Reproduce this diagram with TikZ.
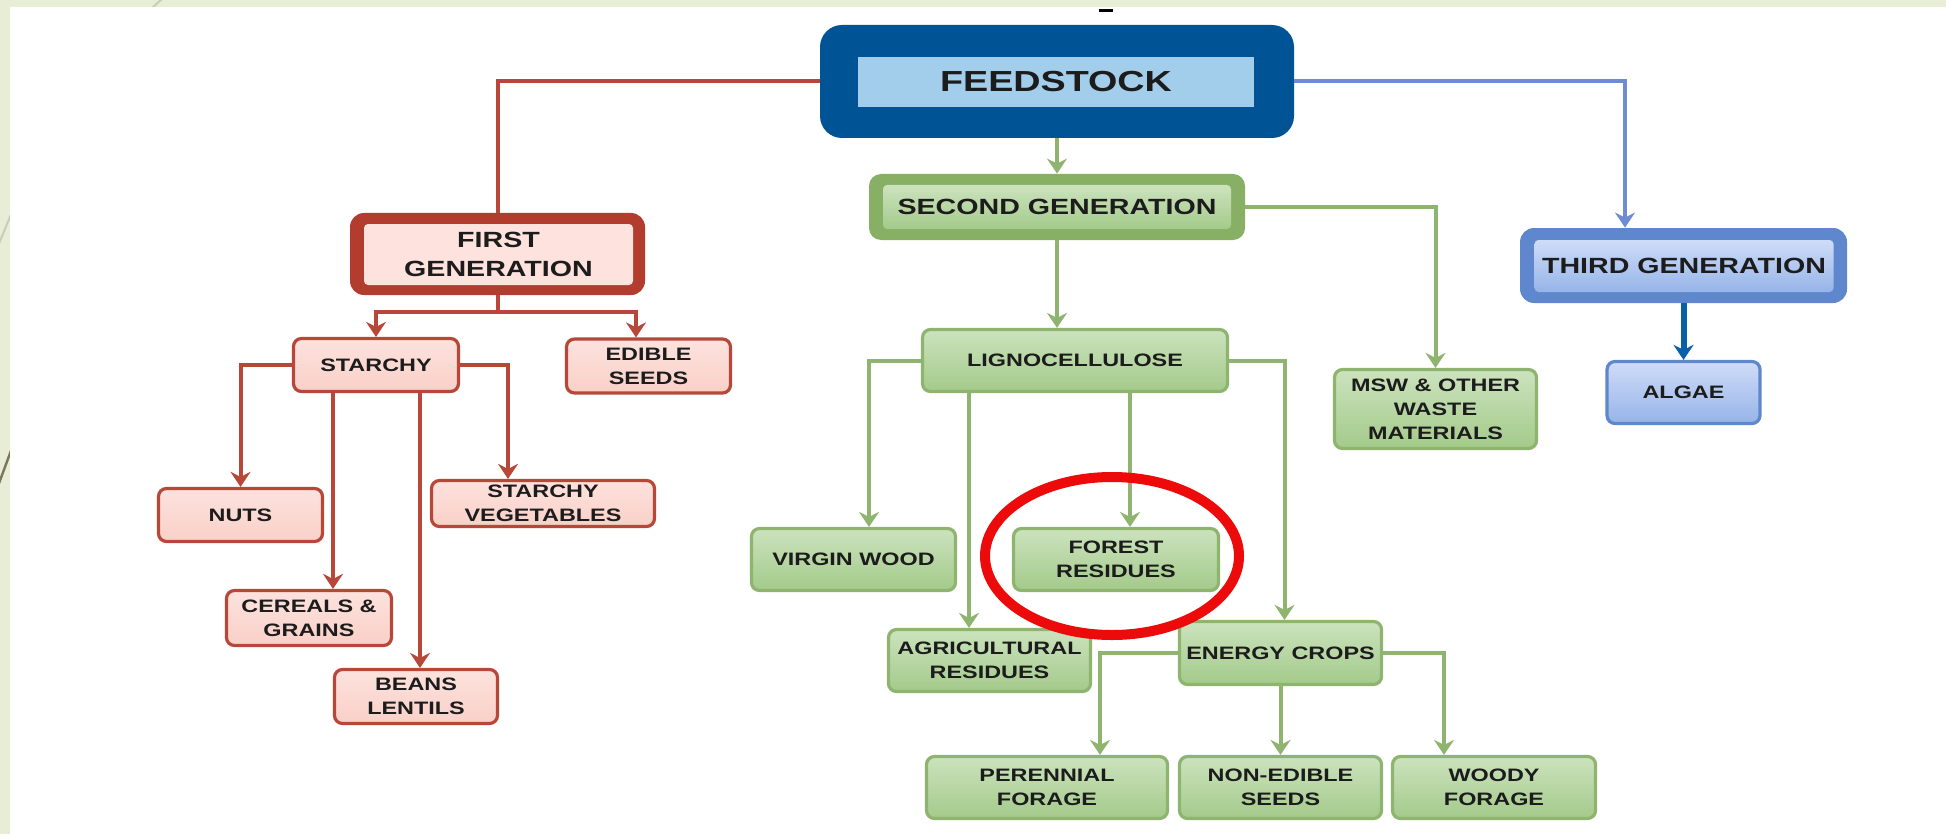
\documentclass[tikz,border=0pt]{standalone}
\usepackage{fontspec}
\setmainfont{Liberation Sans}[FakeStretch=1.3]
\usetikzlibrary{arrows.meta,shapes.geometric}
\definecolor{TextBlack}{RGB}{28,28,28}
\definecolor{Strip}{RGB}{232,237,214}
\definecolor{StripLine}{RGB}{200,205,184}
\definecolor{SlideLine}{RGB}{125,118,88}
\definecolor{FeedDark}{RGB}{0,84,150}
\definecolor{FeedLight}{RGB}{162,206,236}
\definecolor{RedLine}{RGB}{183,72,57}
\definecolor{RedDark}{RGB}{178,60,45}
\definecolor{PinkTop}{RGB}{253,226,221}
\definecolor{PinkBot}{RGB}{249,208,200}
\definecolor{GreenLine}{RGB}{143,180,112}
\definecolor{GreenDark}{RGB}{135,176,100}
\definecolor{GreenTop}{RGB}{204,227,190}
\definecolor{GreenBot}{RGB}{163,202,138}
\definecolor{BlueLine}{RGB}{110,140,210}
\definecolor{BlueMid}{RGB}{95,135,205}
\definecolor{BlueTop}{RGB}{207,220,248}
\definecolor{BlueBot}{RGB}{150,180,232}
\definecolor{AlgaeLine}{RGB}{10,95,170}
\definecolor{Ring}{RGB}{236,10,10}
\tikzset{
  lbl/.style={font=\bfseries\fontsize{9}{12}\selectfont, text=TextBlack, align=center, inner sep=0pt},
  biglbl/.style={font=\bfseries\fontsize{11}{14.5}\selectfont, text=TextBlack, align=center, inner sep=0pt},
  frame/.style={inner sep=0pt},
  redbox/.style={lbl, draw=RedLine, line width=1.6pt, top color=PinkTop, bottom color=PinkBot, rounded corners=4pt},
  greenbox/.style={lbl, draw=GreenLine, line width=1.6pt, top color=GreenTop, bottom color=GreenBot, rounded corners=4pt},
  bluebox/.style={lbl, draw=BlueMid, line width=1.6pt, top color=BlueTop, bottom color=BlueBot, rounded corners=4pt},
  redline/.style={draw=RedLine, line width=2pt},
  greenline/.style={draw=GreenLine, line width=2pt},
  blueline/.style={draw=BlueLine, line width=2pt},
  algaeline/.style={draw=AlgaeLine, line width=3pt},
  tip/.style={-{Stealth[length=7.5pt,width=10pt,inset=2.5pt]}},
  ring/.style={ellipse, draw=Ring, line width=5pt, inner sep=0pt}
}
\begin{document}
\begin{tikzpicture}[x=0.5pt,y=-0.5pt]
    \useasboundingbox (0,0) rectangle (1946,834);
    % slide background
    \fill[Strip] (0,0) rectangle (1946,834);
    \draw[StripLine, line width=1pt] (163,-2) -- (151,9);
    \draw[StripLine, line width=1pt] (12,212) -- (-2,246);
    \draw[SlideLine, line width=1.2pt] (12,448) -- (-2,486);
    \fill[white] (10,7) rectangle (1946,834);
    \node[fill=black, minimum width=7pt, minimum height=1.5pt, inner sep=0pt] (dash) at (1106,10.5) {};

    % main boxes
    \node[frame, fill=FeedDark, minimum width=237pt, minimum height=56.5pt, rounded corners=11pt] (feedstock) at (1057,81.5) {};
    \node[biglbl, fill=FeedLight, minimum width=198pt, minimum height=25pt, font=\bfseries\fontsize{14.5}{17}\selectfont] (feedstocktext) at (1056,82) {FEEDSTOCK};

    \node[frame, fill=RedDark, minimum width=147.5pt, minimum height=41pt, rounded corners=7pt] (firstgen) at (497.5,254) {};
    \node[biglbl, fill=PinkTop, minimum width=134.5pt, minimum height=30.5pt, rounded corners=2pt] (firstgentext) at (498.5,254.5) {FIRST\\GENERATION};

    \node[frame, fill=GreenDark, minimum width=188pt, minimum height=33pt, rounded corners=6pt] (secondgen) at (1057,207) {};
    \node[biglbl, top color=GreenTop, bottom color=GreenBot, minimum width=174pt, minimum height=22pt, rounded corners=2pt] (secondgentext) at (1057,207) {SECOND GENERATION};

    \node[frame, fill=BlueMid, minimum width=163.5pt, minimum height=37.5pt, rounded corners=7pt] (thirdgen) at (1683.5,265.5) {};
    \node[biglbl, top color=BlueTop, bottom color=BlueBot, minimum width=149.5pt, minimum height=26pt, rounded corners=2pt] (thirdgentext) at (1684,266) {THIRD GENERATION};

    % first generation
    \node[redbox, minimum width=82.5pt, minimum height=26.5pt] (starchy) at (376,365) {STARCHY};
    \node[redbox, minimum width=82pt, minimum height=27pt] (edible) at (648.5,366) {EDIBLE\\SEEDS};
    \node[redbox, minimum width=82pt, minimum height=26.5pt] (nuts) at (240.5,515) {NUTS};
    \node[redbox, minimum width=111.5pt, minimum height=23pt] (starchyveg) at (543,503.5) {STARCHY\\VEGETABLES};
    \node[redbox, minimum width=82.5pt, minimum height=27.5pt] (cereals) at (309,618) {CEREALS \&\\GRAINS};
    \node[redbox, minimum width=81.5pt, minimum height=27pt] (beans) at (416,696.5) {BEANS\\LENTILS};

    % second generation
    \node[greenbox, minimum width=152.5pt, minimum height=31pt] (lignocellulose) at (1075,360.5) {LIGNOCELLULOSE};
    \node[greenbox, minimum width=101pt, minimum height=39.5pt] (msw) at (1435.5,409) {MSW \& OTHER\\WASTE\\MATERIALS};
    \node[greenbox, minimum width=102pt, minimum height=31pt] (virginwood) at (853.5,559.5) {VIRGIN WOOD};
    \node[greenbox, minimum width=102.5pt, minimum height=31pt] (forest) at (1116,559.5) {FOREST\\RESIDUES};
    \node[greenbox, minimum width=101pt, minimum height=31pt] (agri) at (989.5,660.5) {AGRICULTURAL\\RESIDUES};
    \node[greenbox, minimum width=101pt, minimum height=31.5pt] (energy) at (1280.5,653) {ENERGY CROPS};
    \node[greenbox, minimum width=120.5pt, minimum height=31pt] (perennial) at (1047,787.5) {PERENNIAL\\FORAGE};
    \node[greenbox, minimum width=101pt, minimum height=31pt] (nonedible) at (1280.5,787.5) {NON-EDIBLE\\SEEDS};
    \node[greenbox, minimum width=101.5pt, minimum height=31pt] (woody) at (1494,787.5) {WOODY\\FORAGE};

    % third generation
    \node[bluebox, minimum width=76.5pt, minimum height=31pt] (algae) at (1683.5,392.5) {ALGAE};

    % connectors
    \draw[redline] (feedstock.west) -| (firstgen.north);
    \coordinate (firstsplit) at (497.5,312);
    \draw[redline] (firstgen.south) -- (firstsplit);
    \draw[redline,tip] (firstsplit) -| (starchy.north);
    \draw[redline,tip] (firstsplit) -| ([xshift=-6.25pt]edible.north);
    \draw[redline,tip] (starchy.west) -| (nuts.north);
    \draw[redline,tip] (starchy.east) -| ([xshift=-17.5pt]starchyveg.north);
    \draw[redline,tip] ([xshift=-21.5pt]starchy.south) -- ([xshift=12pt]cereals.north);
    \draw[redline,tip] ([xshift=22pt]starchy.south) -- ([xshift=2pt]beans.north);

    \draw[greenline,tip] (feedstock.south) -- (secondgen.north);
    \draw[greenline,tip] (secondgen.south) -- ([xshift=-9pt]lignocellulose.north);
    \draw[greenline,tip] (secondgen.east) -| (msw.north);
    \draw[greenline,tip] (lignocellulose.west) -| ([xshift=7.75pt]virginwood.north);
    \draw[greenline,tip] ([xshift=-53pt]lignocellulose.south) -- ([xshift=-10.25pt]agri.north);
    \draw[greenline,tip] ([xshift=27.5pt]lignocellulose.south) -- ([xshift=7pt]forest.north);
    \draw[greenline,tip] (lignocellulose.east) -| ([xshift=2pt]energy.north);
    \draw[greenline,tip] (energy.west) -| ([xshift=26.5pt]perennial.north);
    \draw[greenline,tip] (energy.south) -- (nonedible.north);
    \draw[greenline,tip] (energy.east) -| ([xshift=-25pt]woody.north);

    \draw[blueline,tip] (feedstock.east) -| ([xshift=-29.25pt]thirdgen.north);
    \draw[algaeline,tip] (thirdgen.south) -- (algae.north);

    % highlight
    \node[ring, minimum width=127pt, minimum height=79pt] (focus) at (1112,556) {};
\end{tikzpicture}
\end{document}
